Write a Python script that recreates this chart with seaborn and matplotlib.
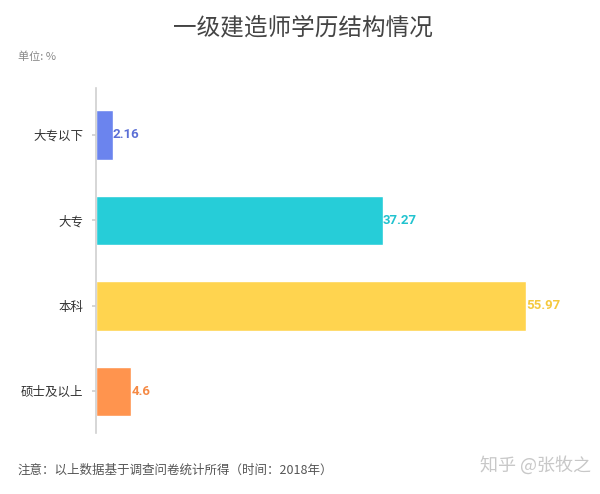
import matplotlib
matplotlib.use("Agg")
import matplotlib.pyplot as plt
import seaborn as sns
import pandas as pd

categories = ["大专以下", "大专", "本科", "硕士及以上"]
values = [2.16, 37.27, 55.97, 4.6]
bar_colors = ["#6B84EE", "#26CDD8", "#FFD44F", "#FF944E"]
label_colors = ["#5B6FD6", "#22C3CF", "#F5C93E", "#F58A45"]

sns.set_theme(style="white")
plt.rcParams["font.family"] = ["Noto Sans CJK SC", "DejaVu Sans"]

df = pd.DataFrame({"category": categories, "value": values})

fig = plt.figure(figsize=(6, 4.94), dpi=100)
ax = fig.add_axes([0.16, 0.123, 0.82, 0.699])

sns.barplot(data=df, x="value", y="category", hue="category",
            palette=bar_colors, order=categories, hue_order=categories,
            width=0.58, legend=False, ax=ax, saturation=1)

for i, (v, c) in enumerate(zip(values, label_colors)):
    ax.text(v, i, f"{v:g}", ha="left", va="center",
            fontsize=9.5, fontweight="bold", color=c,
            family=["Roboto", "DejaVu Sans"])

ax.set_xlim(0, 64)
ax.set_ylim(3.49, -0.55)
ax.set_xlabel("")
ax.set_ylabel("")
ax.set_xticks([])
for s in ["top", "right", "bottom"]:
    ax.spines[s].set_visible(False)
ax.spines["left"].set_color("#d0d0d0")
ax.spines["left"].set_linewidth(1.2)
ax.tick_params(axis="y", length=3, color="#d0d0d0", labelsize=9,
               labelcolor="#333333", pad=6, left=True)

fig.text(0.505, 0.943, "一级建造师学历结构情况", ha="center", va="center",
         fontsize=17, color="#444444")
fig.text(0.03, 0.885, "单位: %", ha="left", va="center",
         fontsize=8, color="#888888")
fig.text(0.03, 0.048, "注意：以上数据基于调查问卷统计所得（时间：2018年）",
         ha="left", va="center", fontsize=9, color="#555555")
fig.text(0.985, 0.058, "知乎 @张牧之", ha="right", va="center",
         fontsize=13, color="#c8c8c8")

fig.savefig("out.png", dpi=100)
